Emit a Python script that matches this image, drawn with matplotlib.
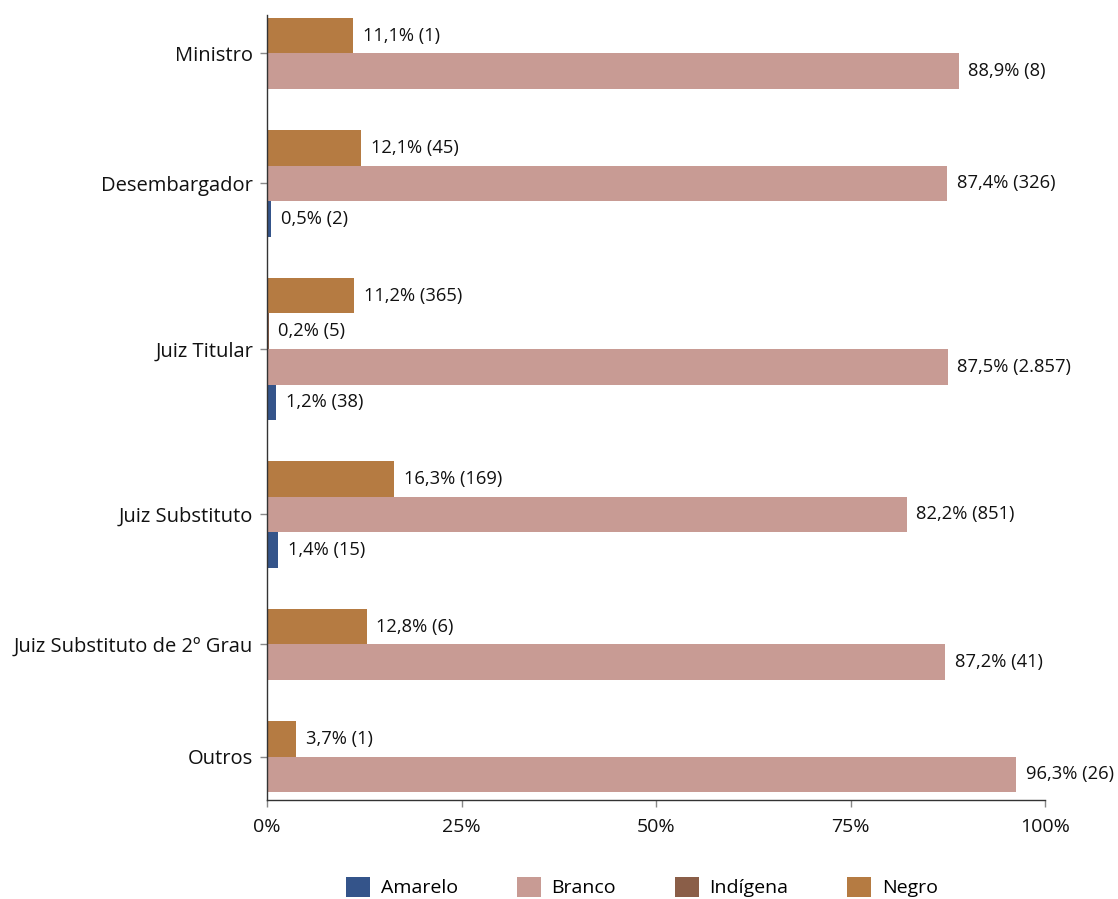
import matplotlib
matplotlib.use("Agg")
import matplotlib.pyplot as plt
from matplotlib.patches import Patch

plt.rcParams["font.family"] = ["Open Sans", "DejaVu Sans"]

categories = ["Ministro", "Desembargador", "Juiz Titular", "Juiz Substituto",
              "Juiz Substituto de 2º Grau", "Outros"]

amarelo_pct = [0, 0.5, 1.2, 1.4, 0, 0]
amarelo_n = [0, 2, 38, 15, 0, 0]
branco_pct = [88.9, 87.4, 87.5, 82.2, 87.2, 96.3]
branco_n = [8, 326, 2857, 851, 41, 26]
indigena_pct = [0, 0, 0.2, 0, 0, 0]
indigena_n = [0, 0, 5, 0, 0, 0]
negro_pct = [11.1, 12.1, 11.2, 16.3, 12.8, 3.7]
negro_n = [1, 45, 365, 169, 6, 1]

colors = {"Amarelo": "#34548a", "Branco": "#c89b94",
          "Indígena": "#8a5e48", "Negro": "#b57b42"}

# order of bars inside a group, top to bottom
stack_order = [("Negro", negro_pct, negro_n),
               ("Indígena", indigena_pct, indigena_n),
               ("Branco", branco_pct, branco_n),
               ("Amarelo", amarelo_pct, amarelo_n)]


def fmt_pct(v):
    return f"{v:.1f}".replace(".", ",") + "%"


def fmt_n(n):
    return f"{n:,}".replace(",", ".")


fig = plt.figure(figsize=(11.18, 8.99), dpi=100)
ax = fig.add_axes([267 / 1118, 1 - 800 / 899, (1045 - 267) / 1118, (800 - 15) / 899])

gap = 1.15
y = 0.0
centers = []
for i, cat in enumerate(categories):
    start = y
    for name, pct, n in stack_order:
        if n[i] == 0:
            continue
        ax.barh(y + 0.5, pct[i], height=1.0, color=colors[name], zorder=2)
        ax.annotate(f"{fmt_pct(pct[i])} ({fmt_n(n[i])})", (pct[i], y + 0.5),
                    xytext=(7, 0), textcoords="offset points",
                    va="center", ha="left", fontsize=13.2, color="#111111")
        y += 1.0
    centers.append((start + y) / 2)
    y += gap
total = y - gap

ax.set_ylim(total + 0.22, -0.08)
ax.set_xlim(0, 100)
ax.set_yticks(centers)
ax.set_yticklabels(categories, fontsize=14.5, color="#111111")
ax.set_xticks([0, 25, 50, 75, 100])
ax.set_xticklabels(["0%", "25%", "50%", "75%", "100%"], fontsize=14, color="#111111")
ax.tick_params(axis="both", color="#888888", length=5, width=1)
ax.tick_params(axis="y", pad=5)
ax.tick_params(axis="x", pad=8)

for s in ["top", "right"]:
    ax.spines[s].set_visible(False)
for s in ["left", "bottom"]:
    ax.spines[s].set_color("#333333")
    ax.spines[s].set_linewidth(1)

handles = [Patch(facecolor=colors[k], label=k) for k in ["Amarelo", "Branco", "Indígena", "Negro"]]
fig.legend(handles=handles, loc="center", bbox_to_anchor=(642 / 1118, 1 - 887 / 899),
           ncol=4, frameon=False, fontsize=14, handlelength=1.25, handleheight=1.25,
           handletextpad=0.55, columnspacing=3.0)

fig.savefig("out.png", dpi=100)
